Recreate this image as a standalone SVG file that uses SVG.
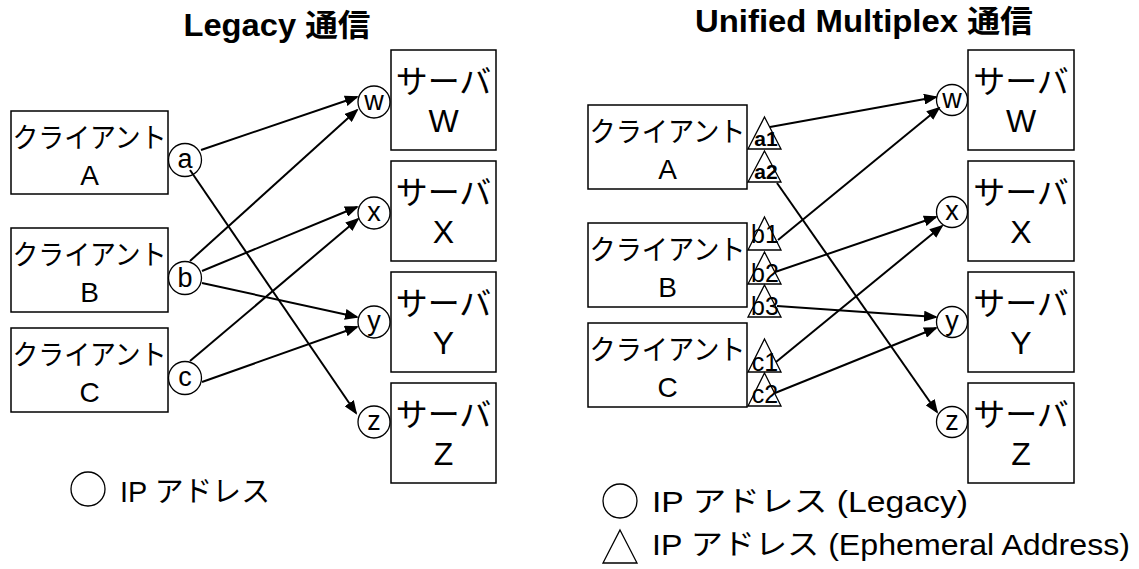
<svg xmlns="http://www.w3.org/2000/svg" width="1139" height="569" viewBox="0 0 1139 569">
  <style>
    .bg { fill: #fff; }
    .box { fill: #fff; stroke: #000; stroke-width: 1.5; }
    .addr { fill: #fff; stroke: #000; stroke-width: 1.3; }
    .conn { fill: none; stroke: #000; stroke-width: 2; marker-end: url(#arr); }
    text { font-family: "Liberation Sans", "Noto Sans CJK JP", sans-serif; fill: #000; }
    .title { font-size: 31px; font-weight: bold; text-anchor: middle; }
    .cli { font-size: 28px; text-anchor: middle; }
    .srv { font-size: 32px; text-anchor: middle; }
    .lbl { font-size: 27px; text-anchor: middle; }
    .tri { font-size: 25px; text-anchor: middle; }
    .trib { font-size: 21px; font-weight: bold; text-anchor: middle; }
    .leg { font-size: 29px; }
  </style>
  <defs>
    <marker id="arr" markerUnits="userSpaceOnUse" markerWidth="14" markerHeight="11" refX="12" refY="5.5" orient="auto">
      <path d="M0,0 L14,5.5 L0,11 z" fill="#000"/>
    </marker>
  </defs>

  <rect class="bg" x="0" y="0" width="1139" height="569"/>

  <!-- Legacy side -->
  <text class="title" x="277" y="36" textLength="187" lengthAdjust="spacingAndGlyphs">Legacy 通信</text>

  <g id="legacy-client-a">
    <rect class="box" x="11" y="111" width="157" height="83"/>
    <text class="cli" x="89.5" y="148" textLength="154" lengthAdjust="spacingAndGlyphs">クライアント</text>
    <text class="cli" x="89.5" y="185">A</text>
  </g>
  <g id="legacy-client-b">
    <rect class="box" x="11" y="228" width="157" height="84"/>
    <text class="cli" x="89.5" y="265" textLength="154" lengthAdjust="spacingAndGlyphs">クライアント</text>
    <text class="cli" x="89.5" y="302">B</text>
  </g>
  <g id="legacy-client-c">
    <rect class="box" x="11" y="328" width="157" height="84"/>
    <text class="cli" x="89.5" y="365" textLength="154" lengthAdjust="spacingAndGlyphs">クライアント</text>
    <text class="cli" x="89.5" y="402">C</text>
  </g>

  <g id="legacy-addr-a"><circle class="addr" cx="185" cy="160" r="16.5"/><text class="lbl" x="185" y="168">a</text></g>
  <g id="legacy-addr-b"><circle class="addr" cx="185" cy="278" r="16.5"/><text class="lbl" x="185" y="287">b</text></g>
  <g id="legacy-addr-c"><circle class="addr" cx="185" cy="378" r="16.5"/><text class="lbl" x="185" y="386">c</text></g>

  <g id="legacy-server-w">
    <rect class="box" x="391" y="50" width="105" height="100"/>
    <text class="srv" x="443.5" y="93">サーバ</text>
    <text class="srv" x="443.5" y="132">W</text>
  </g>
  <g id="legacy-server-x">
    <rect class="box" x="391" y="161" width="105" height="100"/>
    <text class="srv" x="443.5" y="204">サーバ</text>
    <text class="srv" x="443.5" y="243">X</text>
  </g>
  <g id="legacy-server-y">
    <rect class="box" x="391" y="272" width="105" height="100"/>
    <text class="srv" x="443.5" y="315">サーバ</text>
    <text class="srv" x="443.5" y="354">Y</text>
  </g>
  <g id="legacy-server-z">
    <rect class="box" x="391" y="383" width="105" height="100"/>
    <text class="srv" x="443.5" y="426">サーバ</text>
    <text class="srv" x="443.5" y="465">Z</text>
  </g>

  <g id="legacy-addr-w"><circle class="addr" cx="374" cy="102" r="16"/><text class="lbl" x="374" y="110">w</text></g>
  <g id="legacy-addr-x"><circle class="addr" cx="374" cy="213" r="16"/><text class="lbl" x="374" y="221">x</text></g>
  <g id="legacy-addr-y"><circle class="addr" cx="374" cy="322" r="16"/><text class="lbl" x="374" y="330">y</text></g>
  <g id="legacy-addr-z"><circle class="addr" cx="374" cy="422" r="16"/><text class="lbl" x="374" y="430">z</text></g>

  <g id="legacy-legend">
    <circle class="addr" cx="88" cy="489" r="17"/>
    <text class="leg" x="120" y="502" textLength="150" lengthAdjust="spacingAndGlyphs">IP アドレス</text>
  </g>

  <!-- Unified Multiplex side -->
  <text class="title" x="864" y="32" textLength="338" lengthAdjust="spacingAndGlyphs">Unified Multiplex 通信</text>

  <g id="um-client-a">
    <rect class="box" x="588" y="105" width="159" height="84"/>
    <text class="cli" x="667.5" y="142" textLength="156" lengthAdjust="spacingAndGlyphs">クライアント</text>
    <text class="cli" x="667.5" y="179">A</text>
  </g>
  <g id="um-client-b">
    <rect class="box" x="588" y="223" width="159" height="84"/>
    <text class="cli" x="667.5" y="260" textLength="156" lengthAdjust="spacingAndGlyphs">クライアント</text>
    <text class="cli" x="667.5" y="297">B</text>
  </g>
  <g id="um-client-c">
    <rect class="box" x="588" y="323" width="159" height="84"/>
    <text class="cli" x="667.5" y="360" textLength="156" lengthAdjust="spacingAndGlyphs">クライアント</text>
    <text class="cli" x="667.5" y="397">C</text>
  </g>

  <g id="um-addr-a1"><polygon class="addr" points="764.5,117 781,149 748,149"/><text class="trib" x="766" y="146">a1</text></g>
  <g id="um-addr-a2"><polygon class="addr" points="764.5,151 781,182 748,182"/><text class="trib" x="766" y="179">a2</text></g>
  <g id="um-addr-b1"><polygon class="addr" points="764.5,217 781,250 748,250"/><text class="tri" x="765" y="243">b1</text></g>
  <g id="um-addr-b2"><polygon class="addr" points="764.5,252 781,284 748,284"/><text class="tri" x="765" y="282">b2</text></g>
  <g id="um-addr-b3"><polygon class="addr" points="764.5,285 781,317 748,317"/><text class="tri" x="765" y="315">b3</text></g>
  <g id="um-addr-c1"><polygon class="addr" points="764.5,339 781,372 748,372"/><text class="tri" x="765" y="371">c1</text></g>
  <g id="um-addr-c2"><polygon class="addr" points="764.5,373 781,406 748,406"/><text class="tri" x="765" y="403">c2</text></g>

  <g id="um-server-w">
    <rect class="box" x="968" y="50" width="106" height="100"/>
    <text class="srv" x="1021" y="93">サーバ</text>
    <text class="srv" x="1021" y="132">W</text>
  </g>
  <g id="um-server-x">
    <rect class="box" x="968" y="161" width="106" height="100"/>
    <text class="srv" x="1021" y="204">サーバ</text>
    <text class="srv" x="1021" y="243">X</text>
  </g>
  <g id="um-server-y">
    <rect class="box" x="968" y="272" width="106" height="100"/>
    <text class="srv" x="1021" y="315">サーバ</text>
    <text class="srv" x="1021" y="354">Y</text>
  </g>
  <g id="um-server-z">
    <rect class="box" x="968" y="383" width="106" height="100"/>
    <text class="srv" x="1021" y="426">サーバ</text>
    <text class="srv" x="1021" y="465">Z</text>
  </g>

  <g id="um-addr-w"><circle class="addr" cx="952" cy="100" r="15.5"/><text class="lbl" x="952" y="108">w</text></g>
  <g id="um-addr-x"><circle class="addr" cx="952" cy="212" r="15.5"/><text class="lbl" x="952" y="220">x</text></g>
  <g id="um-addr-y"><circle class="addr" cx="952" cy="322" r="15.5"/><text class="lbl" x="952" y="330">y</text></g>
  <g id="um-addr-z"><circle class="addr" cx="952" cy="422" r="15.5"/><text class="lbl" x="952" y="430">z</text></g>

  <g id="um-legend">
    <circle class="addr" cx="620" cy="501" r="17"/>
    <text class="leg" x="652" y="512" textLength="316" lengthAdjust="spacingAndGlyphs">IP アドレス (Legacy)</text>
    <polygon class="addr" points="620,530 637,563 603,563"/>
    <text class="leg" x="652" y="555" textLength="478" lengthAdjust="spacingAndGlyphs">IP アドレス (Ephemeral Address)</text>
  </g>

  <!-- connectors -->
  <g id="connectors">
    <line class="conn" x1="201" y1="150" x2="357" y2="97"/>
    <line class="conn" x1="190" y1="170" x2="356" y2="413"/>
    <line class="conn" x1="190" y1="261" x2="357" y2="110"/>
    <line class="conn" x1="202" y1="271" x2="357" y2="207"/>
    <line class="conn" x1="202" y1="283" x2="357" y2="317"/>
    <line class="conn" x1="190" y1="361" x2="358" y2="219"/>
    <line class="conn" x1="202" y1="382" x2="357" y2="327"/>

    <line class="conn" x1="770" y1="127" x2="936" y2="97"/>
    <line class="conn" x1="777" y1="183" x2="937" y2="412"/>
    <line class="conn" x1="778" y1="240" x2="939" y2="108"/>
    <line class="conn" x1="775" y1="272" x2="936" y2="217"/>
    <line class="conn" x1="777" y1="306" x2="936" y2="317"/>
    <line class="conn" x1="776" y1="362" x2="942" y2="226"/>
    <line class="conn" x1="775" y1="393" x2="936" y2="328"/>
  </g>
</svg>
